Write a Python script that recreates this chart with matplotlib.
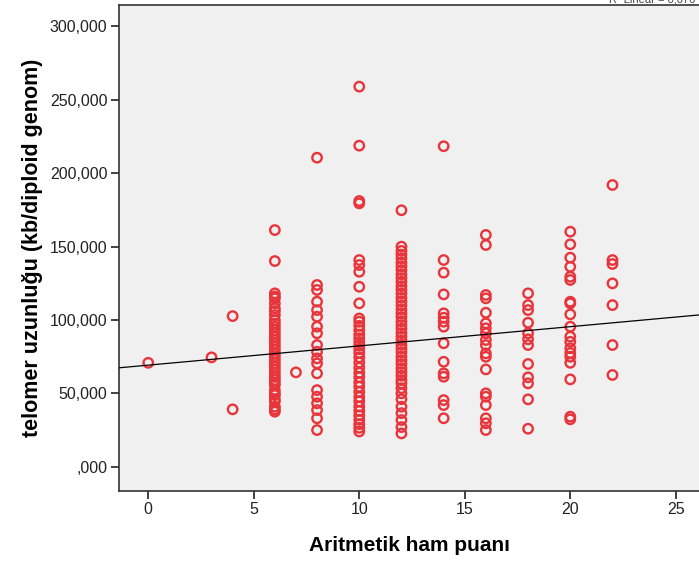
import matplotlib
matplotlib.use('Agg')
import matplotlib.pyplot as plt
from matplotlib.ticker import FuncFormatter

# ── Data (telomere length in kb per diploid genome, by arithmetic raw score) ──

scores = [0, 3, 4, 6, 7, 8, 10, 12, 14, 16, 18, 20, 22]

telomer_0 = [70.8]
telomer_3 = [74.5]
telomer_4 = [102.6, 39.1]
telomer_6 = [161.2, 140.1, 118.1, 116.0, 114.7, 111.3, 107.9, 106.0, 103.3, 99.9,
             97.5, 95.4, 93.0, 90.9, 88.5, 86.3, 84.0, 81.7, 79.5, 77.2, 75.0,
             72.7, 70.5, 68.1, 66.0, 63.6, 61.2, 59.1, 57.0, 55.7, 52.2, 50.0,
             48.8, 46.0, 44.3, 40.9, 39.0, 37.5]
telomer_7 = [64.3]
telomer_8 = [210.5, 123.8, 120.4, 112.4, 106.7, 102.2, 95.4, 90.9, 82.9, 78.3,
             73.8, 70.4, 63.6, 52.2, 47.7, 43.2, 38.6, 33.0, 25.0]
telomer_10 = [258.9, 218.7, 181.0, 179.4, 140.8, 137.4, 132.8, 122.6, 111.3, 101.0,
              98.8, 96.0, 93.0, 90.0, 87.5, 85.0, 82.5, 80.0, 77.5, 74.5, 71.0,
              67.5, 64.0, 61.0, 57.5, 54.5, 51.0, 47.5, 44.5, 41.0, 38.0, 35.0,
              32.0, 29.0, 26.5, 24.0]
telomer_12 = [174.7, 149.9, 147.0, 144.5, 142.0, 139.0, 136.5, 134.0, 131.0, 128.5,
              126.0, 123.0, 120.5, 118.0, 115.0, 112.5, 110.0, 107.0, 104.5, 102.0,
              99.0, 96.5, 94.0, 91.0, 88.5, 86.0, 83.0, 80.5, 78.0, 75.0, 72.5,
              70.0, 67.0, 64.5, 62.0, 59.0, 56.8, 53.5, 50.0, 46.0, 40.9, 36.5,
              31.8, 27.0, 22.7]
telomer_14 = [218.3, 140.8, 132.2, 117.4, 104.5, 101.5, 98.8, 95.4, 84.1, 71.5,
              63.6, 61.3, 45.4, 42.0, 33.0]
telomer_16 = [157.9, 151.0, 117.0, 114.7, 104.9, 97.7, 94.3, 90.9, 86.3, 82.9,
              77.2, 74.9, 66.3, 50.0, 47.7, 42.0, 33.0, 29.6, 25.0]
telomer_18 = [118.1, 110.1, 106.7, 98.1, 90.9, 86.8, 82.9, 70.0, 60.9, 56.8,
              45.9, 25.9]
telomer_20 = [160.1, 151.5, 142.4, 136.2, 129.4, 127.2, 112.4, 111.3, 103.8, 95.4,
              88.6, 85.1, 80.7, 77.5, 74.9, 70.8, 59.5, 34.1, 32.3]
telomer_22 = [191.9, 140.8, 138.1, 124.9, 110.1, 82.9, 62.5]

columns = [telomer_0, telomer_3, telomer_4, telomer_6, telomer_7, telomer_8,
           telomer_10, telomer_12, telomer_14, telomer_16, telomer_18,
           telomer_20, telomer_22]

# linear fit
FIT_INTERCEPT = 69.2
FIT_SLOPE = 1.31

x_ticks = [0, 5, 10, 15, 20, 25]
y_ticks = [0, 50, 100, 150, 200, 250, 300]

RED = '#E8353B'

# ── Plot ──────────────────────────────────────────────────────────────────────

plt.rcParams['font.family'] = ['Liberation Sans', 'DejaVu Sans']

fig = plt.figure(figsize=(6.99, 5.67), dpi=100)
ax = fig.add_axes([0.1707, 0.1346, 0.8293, 0.8566])
ax.set_facecolor('#F0F0F0')

xs, ys = [], []
for s, vals in zip(scores, columns):
    xs += [s] * len(vals)
    ys += vals

ax.scatter(xs, ys, s=46, facecolors='none', edgecolors=RED,
           linewidths=1.7, zorder=3)
ax.axline((0, FIT_INTERCEPT), slope=FIT_SLOPE, color='black',
          linewidth=0.9, zorder=4)

ax.set_xlim(-1.37, 26.1)
ax.set_ylim(-16.3, 314.5)
ax.set_xticks(x_ticks)
ax.set_yticks(y_ticks)


def tr_fmt(v, pos):
    # SPSS style with Turkish decimal comma, leading zero dropped
    s = f'{v:.3f}'.replace('.', ',')
    return s[1:] if s.startswith('0,') else s


ax.yaxis.set_major_formatter(FuncFormatter(tr_fmt))
ax.tick_params(direction='out', length=5.5, width=1.3, color='#333333',
               labelsize=11.5, labelcolor='#222222', pad=3)

for side in ['left', 'bottom', 'top']:
    ax.spines[side].set_color('#333333')
    ax.spines[side].set_linewidth(1.2)
ax.spines['right'].set_visible(False)

ax.set_xlabel('Aritmetik ham puanı', fontsize=15, fontweight='bold', labelpad=13)
ax.set_ylabel('telomer uzunluğu (kb/diploid genom)', fontsize=15.5,
              fontweight='bold', labelpad=5)

fig.text(0.995, 1.0, 'R² Linear = 0,076', ha='right', va='center',
         fontsize=8, color='#444444')

fig.savefig('out.png', dpi=100, facecolor='white')
